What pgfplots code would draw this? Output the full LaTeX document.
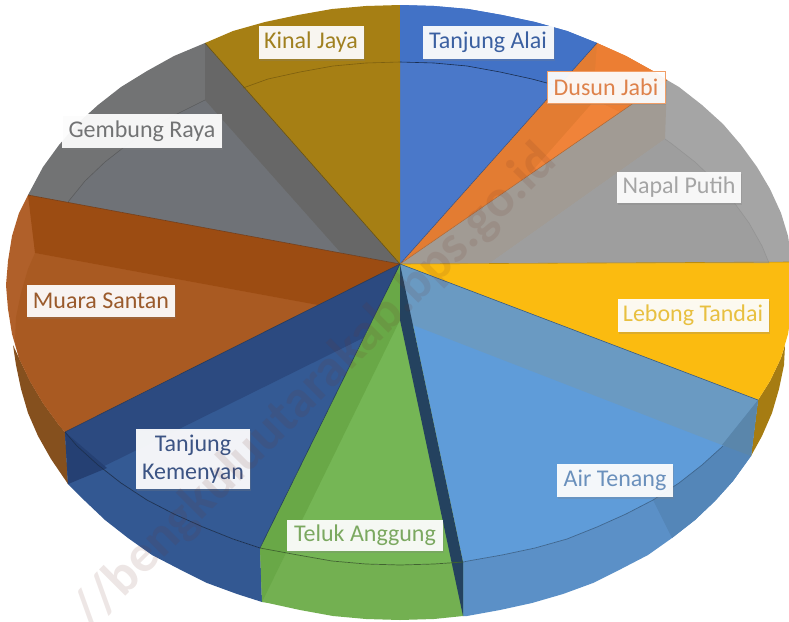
\documentclass[border=0pt]{standalone}
\usepackage{pgfplots}
\pgfplotsset{compat=1.18}
\usepackage{fontspec}
\setmainfont{Carlito}
\usetikzlibrary{shadows}
\definecolor{cA}{HTML}{4A78C9}
\definecolor{cAo}{HTML}{4272C6}
\definecolor{cD}{HTML}{E37C32}
\definecolor{cDo}{HTML}{EC7E33}
\definecolor{cDi}{HTML}{F08339}
\definecolor{cN}{HTML}{A5A5A5}
\definecolor{cNb}{HTML}{A19B94}
\definecolor{cNi}{HTML}{9E9E9E}
\definecolor{cL}{HTML}{FBBB10}
\definecolor{cLw}{HTML}{A67C12}
\definecolor{cT}{HTML}{5F9CD9}
\definecolor{cTb}{HTML}{6A9AC2}
\definecolor{cTw}{HTML}{5B90C7}
\definecolor{cTe}{HTML}{5486B8}
\definecolor{cTd}{HTML}{5A86AB}
\definecolor{cG}{HTML}{75B655}
\definecolor{cGb}{HTML}{69A847}
\definecolor{cGw}{HTML}{73B051}
\definecolor{cK}{HTML}{345A94}
\definecolor{cKb}{HTML}{2C4A80}
\definecolor{cKw}{HTML}{335892}
\definecolor{cKd}{HTML}{254073}
\definecolor{cM}{HTML}{B0602A}
\definecolor{cMi}{HTML}{A95A22}
\definecolor{cMb}{HTML}{9C4C12}
\definecolor{cMw}{HTML}{85501E}
\definecolor{cR}{HTML}{727374}
\definecolor{cRb}{HTML}{676767}
\definecolor{cRi}{HTML}{6F7277}
\definecolor{cJ}{HTML}{A67F14}
\tikzset{lab/.style={fill=white,fill opacity=.93,text opacity=1,inner sep=0pt,align=center,font=\fontsize{24}{28}\selectfont,
  drop shadow={shadow xshift=1pt,shadow yshift=-2pt,opacity=.25}}}
\begin{document}
\begin{tikzpicture}
\begin{axis}[scale only axis,width=789pt,height=621pt,xmin=0,xmax=789,ymin=0,ymax=621,y dir=reverse,hide axis,clip=true]
% side walls
\addplot[fill=cLw,draw=none] coordinates {(758,400)(770,381)(781,358)(785,345)(784,365)(779,389)(772,413)(762,436)(751,456)} --cycle;
\addplot[fill=cTw,draw=none] coordinates {(758,400)(741,425)(723,446)(702,465)(679,483)(653,500)(626,514)(597,527)(567,539)(535,548)(502,555)(468,561)(463,562)(463,616)(467,616)(500,610)(532,603)(563,594)(593,583)(621,569)(648,555)(672,538)(695,520)(715,501)(733,481)(751,456)} --cycle;
\addplot[fill=cTe,draw=none] coordinates {(758,400)(741,425)(723,446)(702,465)(679,483)(653,500)(672,538)(695,520)(715,501)(733,481)(751,456)} --cycle;
\addplot[fill=cGw,draw=none] coordinates {(463,562)(434,564)(400,565)(366,564)(332,561)(298,555)(260,548)(262,602)(268,603)(300,610)(333,616)(366,619)(400,620)(434,619)(463,616)} --cycle;
\addplot[fill=cKw,draw=none] coordinates {(260,548)(233,539)(203,527)(174,514)(147,500)(121,483)(98,465)(77,446)(65,432)(68,484)(85,501)(105,520)(128,538)(152,555)(179,569)(207,583)(237,594)(262,602)} --cycle;
\addplot[fill=cMw,draw=none] coordinates {(13,345)(19,358)(30,381)(43,403)(59,425)(65,432)(68,484)(51,459)(38,436)(28,413)(21,389)(16,365)} --cycle;
% top faces
\addplot[fill=cA,draw=none] coordinates {(400,264)(400,5)(434,6)(468,9)(502,15)(535,22)(567,31)(597,43)} --cycle;
\addplot[fill=cD,draw=none] coordinates {(400,264)(597,43)(626,56)(653,71)(667,80)} --cycle;
\addplot[fill=cN,draw=none] coordinates {(400,264)(667,80)(679,87)(702,105)(723,124)(741,145)(757,167)(770,189)(781,213)(788,236)(792,262)} --cycle;
\addplot[fill=cL,draw=none] coordinates {(400,264)(792,262)(794,285)(792,309)(788,334)(781,358)(770,381)(758,400)} --cycle;
\addplot[fill=cT,draw=none] coordinates {(400,264)(758,400)(741,425)(723,446)(702,465)(679,483)(653,500)(626,514)(597,527)(567,539)(535,548)(502,555)(468,561)(463,562)} --cycle;
\addplot[fill=cG,draw=none] coordinates {(400,264)(463,562)(434,564)(400,565)(366,564)(332,561)(298,555)(260,548)} --cycle;
\addplot[fill=cK,draw=none] coordinates {(400,264)(260,548)(233,539)(203,527)(174,514)(147,500)(121,483)(98,465)(77,446)(65,432)} --cycle;
\addplot[fill=cM,draw=none] coordinates {(400,264)(65,432)(59,425)(43,403)(30,381)(19,358)(12,334)(8,309)(6,285)(8,261)(12,236)(19,213)(28,195)} --cycle;
\addplot[fill=cR,draw=none] coordinates {(400,264)(28,195)(43,167)(59,145)(77,124)(98,105)(121,87)(147,71)(174,56)(205,43)} --cycle;
\addplot[fill=cJ,draw=none] coordinates {(400,264)(205,43)(233,31)(265,22)(298,15)(332,9)(366,6)(400,5)} --cycle;
% bands and inner faces seen through the slices
\addplot[fill=cAo,draw=none] coordinates {(400,5)(434,6)(468,9)(502,15)(535,22)(567,31)(597,43)(558,86)(532,79)(500,72)(467,66)(434,63)(400,62)} --cycle;
\addplot[fill=cDo,draw=none] coordinates {(593,99)(597,43)(626,56)(653,71)(667,80)(620,112)} --cycle;
\addplot[fill=cDi,draw=none] coordinates {(528,176)(595,100)(620,112)} --cycle;
\addplot[fill=cNb,draw=none] coordinates {(400,264)(667,80)(665,139)(490,263)} --cycle;
\addplot[fill=cNi,draw=none] coordinates {(490,263)(665,139)(672,144)(695,162)(715,181)(733,201)(749,223)(762,246)(769,263)} --cycle;
\addplot[fill=cTb,draw=none] coordinates {(400,264)(758,400)(722,445)(400,320)} --cycle;
\addplot[fill=cTd,draw=none] coordinates {(758,400)(751,456)(722,445)} --cycle;
\addplot[fill=cGb,draw=none] coordinates {(400,264)(260,548)(262,602)(400,320)} --cycle;
\addplot[fill={rgb,255:red,36;green,66;blue,95},draw=none] coordinates {(400,264)(463,562)(463,616)(400,320)} --cycle;
\addplot[fill=cKb,draw=none] coordinates {(400,264)(65,432)(68,484)(363,338)} --cycle;
\addplot[fill=cKd,draw=none] coordinates {(65,432)(68,484)(107,468)} --cycle;
\addplot[fill=cMi,draw=none] coordinates {(318,305)(35,253)(28,269)(21,293)(16,317)(15,341)(19,358)(30,381)(43,403)(59,425)(65,432)} --cycle;
\addplot[fill=cMb,draw=none] coordinates {(400,264)(28,195)(35,253)(318,305)} --cycle;
\addplot[fill=cRi,draw=none] coordinates {(341,253)(205,100)(179,113)(152,127)(128,144)(105,162)(85,181)(68,202)} --cycle;
\addplot[fill=cRb,draw=none] coordinates {(400,264)(205,43)(205,100)(341,253)} --cycle;
% rim lines
\addplot[draw=black!60!cAo,line width=.6pt] coordinates {(400,62)(434,63)(467,66)(500,72)(532,79)(558,86)};
\addplot[draw=black!25!cJ,line width=.6pt] coordinates {(400,62)(366,63)(333,66)(300,72)(268,79)(243,88)};
\addplot[draw=black!20!cR,line width=.6pt] coordinates {(205,100)(179,113)(152,127)(128,144)(105,162)(85,181)(68,202)};
\addplot[draw=black!10!cN,line width=.6pt] coordinates {(665,139)(672,144)(695,162)(715,181)(733,201)(749,223)(762,246)(769,263)};
\addplot[draw=black!35!cT,line width=.7pt] coordinates {(723,446)(702,465)(679,483)(653,500)(626,514)(597,527)(567,539)(535,548)(502,555)(468,561)(463,562)};
\addplot[draw=black!45!cG,line width=.7pt] coordinates {(463,562)(434,564)(400,565)(366,564)(332,561)(298,555)(260,548)};
\addplot[draw=black!45!cK,line width=.7pt] coordinates {(260,548)(233,539)(203,527)(174,514)(147,500)(121,483)(98,465)(77,446)(65,432)};
% slice boundaries
\addplot[draw=black!35!cM,line width=.6pt] coordinates {(400,264)(28,195)};
\addplot[draw=black!35!cJ,line width=.6pt] coordinates {(400,264)(205,43)};
\addplot[draw=black!35!cA,line width=.5pt] coordinates {(400,264)(597,43)};
\addplot[draw=black!20!cD,line width=.5pt] coordinates {(400,264)(667,80)};
\addplot[draw=black!25!cL,line width=.6pt] coordinates {(400,264)(792,262)};
\addplot[draw=black!40!cTb,line width=.6pt] coordinates {(400,264)(758,400)};
\addplot[draw=black!35!cK,line width=.6pt] coordinates {(400,264)(65,432)};
\addplot[draw=black!35!cK,line width=.6pt] coordinates {(400,264)(260,548)};
% labels
\node[lab,text=cA!80!black,minimum width=131pt,minimum height=33pt] at (axis cs:488,42) {Tanjung Alai};
\node[lab,text={rgb,255:red,222;green,130;blue,75},minimum width=118pt,minimum height=32pt,draw=cDo!75!white,line width=1pt] at (axis cs:606,87) {Dusun Jabi};
\node[lab,text=cN,minimum width=124pt,minimum height=31pt] at (axis cs:679,187) {Napal Putih};
\node[lab,text={rgb,255:red,232;green,192;blue,64},minimum width=151pt,minimum height=33pt] at (axis cs:693,315) {Lebong Tandai};
\node[lab,text={rgb,255:red,106;green,144;blue,188},minimum width=116pt,minimum height=33pt] at (axis cs:615,480) {Air Tenang};
\node[lab,text={rgb,255:red,123;green,168;blue,96},minimum width=156pt,minimum height=31pt] at (axis cs:365,535) {Teluk Anggung};
\node[lab,text={rgb,255:red,60;green,84;blue,132},minimum width=114pt,minimum height=60pt] at (axis cs:193,459) {Tanjung\\Kemenyan};
\node[lab,text={rgb,255:red,154;green,90;blue,44},minimum width=148pt,minimum height=32pt] at (axis cs:101,301) {Muara Santan};
\node[lab,text=cR,minimum width=160pt,minimum height=34pt] at (axis cs:142,131) {Gembung Raya};
\node[lab,text={rgb,255:red,160;green,128;blue,32},minimum width=105pt,minimum height=33pt] at (axis cs:311,42) {Kinal Jaya};
% watermark
\node[rotate=45,text={rgb,255:red,110;green,50;blue,40},text opacity=.12,font=\fontsize{53}{53}\selectfont\bfseries] at (axis cs:315,387) {//bengkuluutarakab.bps.go.id};
\end{axis}
\pgfresetboundingbox
\useasboundingbox (current axis.south west) rectangle (current axis.north east);
\end{tikzpicture}
\end{document}
